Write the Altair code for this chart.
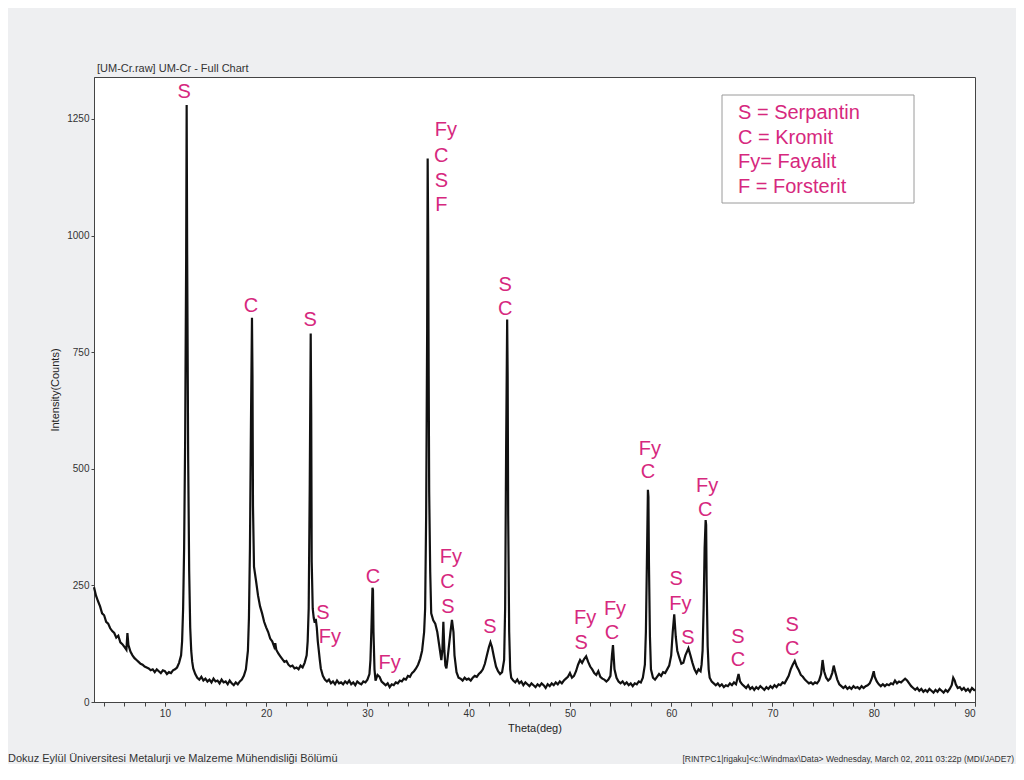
import altair as alt
import pandas as pd

# ---- diffraction pattern (theta in deg, intensity in counts) ----
seg_3_12 = [(3.0,246),(3.2,228),(3.4,216),(3.6,205),(3.8,190),(4.0,186),(4.2,172),(4.4,168),
            (4.6,158),(4.8,152),(5.0,148),(5.2,138),(5.4,142),(5.6,128),(5.8,124),(6.0,118),
            (6.2,112),(6.3,148),(6.4,122),(6.6,108),(6.8,100),(7.0,94),(7.2,90),(7.4,86),
            (7.6,82),(7.8,80),(8.0,76),(8.2,74),(8.4,72),(8.6,68),(8.8,70),(9.0,64),(9.2,70),
            (9.4,66),(9.6,62),(9.8,68),(10.0,66),(10.2,60),(10.4,64),(10.6,62),(10.8,68),
            (11.0,70),(11.2,74),(11.4,84),(11.6,100),(11.7,130),(11.8,200),(11.9,330),
            (12.0,560),(12.1,950),(12.15,1280),(12.2,960),(12.3,520),(12.4,280),(12.5,160),
            (12.6,110),(12.7,86),(12.8,72)]
seg_13_24 = [(13.0,60),(13.2,52),(13.4,48),(13.6,54),(13.8,46),(14.0,50),(14.2,44),(14.4,48),
             (14.6,42),(14.8,50),(15.0,44),(15.2,46),(15.4,40),(15.6,48),(15.8,42),(16.0,44),
             (16.2,38),(16.4,46),(16.6,40),(16.8,36),(17.0,42),(17.2,38),(17.4,44),(17.6,48),
             (17.8,56),(18.0,70),(18.2,110),(18.3,180),(18.4,330),(18.5,600),(18.6,824),
             (18.65,700),(18.7,420),(18.8,290),(18.9,275),(19.0,260),(19.2,228),(19.4,205),
             (19.6,190),(19.8,172),(20.0,160),(20.2,150),(20.4,136),(20.6,130),(20.8,118),
             (20.9,126),(21.0,112),(21.2,104),(21.4,98),(21.6,92),(21.8,86),(22.0,88),(22.2,80),
             (22.4,76),(22.6,78),(22.8,72),(23.0,74),(23.2,70),(23.4,78),(23.6,74),(23.8,84)]
seg_24_36 = [(24.0,100),(24.1,130),(24.2,200),(24.3,450),(24.4,790),(24.45,620),(24.5,300),
             (24.6,200),(24.7,180),(24.8,170),(24.9,178),(25.0,160),(25.1,130),(25.2,110),
             (25.3,90),(25.4,72),(25.6,56),(25.8,48),(26.0,44),(26.2,48),(26.4,40),(26.6,44),
             (26.8,38),(27.0,46),(27.2,40),(27.4,42),(27.6,38),(27.8,44),(28.0,40),(28.2,46),
             (28.4,38),(28.6,42),(28.8,36),(29.0,44),(29.2,40),(29.4,38),(29.6,44),(29.8,42),
             (30.0,48),(30.2,60),(30.3,90),(30.4,160),(30.5,245),(30.55,240),(30.6,150),
             (30.7,70),(30.8,46),(31.0,58),(31.2,54),(31.4,44),(31.6,40),(31.8,36),(32.0,40),
             (32.2,32),(32.4,38),(32.6,36),(32.8,42),(33.0,40),(33.2,46),(33.4,44),(33.6,50),
             (33.8,48),(34.0,56),(34.2,54),(34.4,62),(34.6,66),(34.8,72),(35.0,80),(35.2,92),
             (35.4,110),(35.6,150),(35.7,200),(35.8,400),(35.9,800),(35.95,1165),(36.0,1000),
             (36.05,700),(36.1,450),(36.2,280)]
seg_36_50 = [(36.3,190),(36.5,175),(36.7,168),(36.9,150),(37.1,120),(37.3,90),(37.4,110),
             (37.5,172),(37.6,110),(37.7,78),(37.8,72),(37.9,90),(38.0,110),(38.2,150),
             (38.35,176),(38.5,150),(38.6,100),(38.8,64),(39.0,52),(39.2,50),(39.4,46),
             (39.6,52),(39.8,48),(40.0,50),(40.2,46),(40.4,52),(40.6,56),(40.8,54),(41.0,60),
             (41.2,64),(41.4,70),(41.6,82),(41.8,100),(42.0,118),(42.15,128),(42.3,118),
             (42.5,96),(42.7,76),(42.9,66),(43.1,60),(43.3,64),(43.5,90),(43.6,200),(43.7,550),
             (43.8,820),(43.85,700),(43.9,400),(44.0,150),(44.1,70),(44.2,52),(44.4,46),
             (44.6,42),(44.8,48),(45.0,40),(45.2,44),(45.4,36),(45.6,42),(45.8,38),(46.0,34),
             (46.2,40),(46.4,36),(46.6,32),(46.8,38),(47.0,34),(47.2,40),(47.4,36),(47.6,30),
             (47.8,38),(48.0,34),(48.2,40),(48.4,36),(48.6,42),(48.8,38),(49.0,44),(49.2,40),
             (49.4,46),(49.6,50),(49.8,54)]
seg_50_64 = [(50.0,62),(50.2,52),(50.4,56),(50.6,66),(50.8,80),(51.0,90),(51.2,84),(51.4,92),
             (51.6,98),(51.8,86),(52.0,76),(52.2,70),(52.4,62),(52.6,58),(52.8,66),(53.0,54),
             (53.2,50),(53.4,48),(53.6,44),(53.8,48),(54.0,56),(54.15,100),(54.25,122),
             (54.4,70),(54.6,52),(54.8,44),(55.0,40),(55.2,44),(55.4,38),(55.6,42),(55.8,36),
             (56.0,40),(56.2,34),(56.4,40),(56.6,38),(56.8,44),(57.0,42),(57.2,52),(57.4,80),
             (57.5,150),(57.6,300),(57.7,455),(57.75,440),(57.8,300),(57.9,140),(58.0,70),
             (58.2,52),(58.4,48),(58.6,54),(58.8,60),(59.0,56),(59.2,64),(59.4,62),(59.6,70),
             (59.8,78),(60.0,100),(60.15,150),(60.3,188),(60.45,140),(60.6,110),(60.8,95),
             (61.0,82),(61.2,84),(61.4,100),(61.7,115),(61.9,100),(62.1,84),(62.3,70),(62.5,62),
             (62.7,70),(62.9,66),(63.0,80),(63.1,110),(63.2,200),(63.3,330),(63.4,390),
             (63.45,380),(63.5,250),(63.6,120),(63.7,70),(63.8,52)]
seg_64_90 = [(64.0,44),(64.2,40),(64.4,36),(64.6,40),(64.8,34),(65.0,38),(65.2,32),(65.4,36),
             (65.6,34),(65.8,40),(66.0,36),(66.2,42),(66.4,38),(66.65,60),(66.8,44),(67.0,38),
             (67.2,34),(67.4,30),(67.6,36),(67.8,28),(68.0,32),(68.2,26),(68.4,32),(68.6,28),
             (68.8,34),(69.0,30),(69.2,26),(69.4,32),(69.6,28),(69.8,34),(70.0,30),(70.2,36),
             (70.4,32),(70.6,38),(70.8,36),(71.0,42),(71.2,40),(71.4,48),(71.6,56),(71.8,70),
             (72.0,80),(72.2,88),(72.4,76),(72.6,68),(72.8,58),(73.0,54),(73.2,48),(73.4,44),
             (73.6,40),(73.8,42),(74.0,38),(74.2,42),(74.4,40),(74.6,46),(74.8,60),(74.95,90),
             (75.1,66),(75.3,52),(75.5,46),(75.7,50),(75.9,62),(76.05,78),(76.2,64),(76.4,48),
             (76.6,38),(76.8,34),(77.0,30),(77.2,34),(77.4,28),(77.6,32),(77.8,28),(78.0,34),
             (78.2,30),(78.4,32),(78.6,28),(78.8,34),(79.0,30),(79.2,34),(79.4,36),(79.6,40),
             (79.8,50),(80.0,66),(80.1,54),(80.3,44),(80.5,38),(80.7,34),(80.9,38),(81.1,34),
             (81.3,38),(81.5,36),(81.7,40),(81.9,38),(82.1,46),(82.3,40),(82.5,44),(82.7,42),
             (82.9,46),(83.1,50),(83.3,46),(83.5,40),(83.7,34),(83.9,30),(84.1,26),(84.3,30),
             (84.5,24),(84.7,28),(84.9,22),(85.1,26),(85.3,22),(85.5,28),(85.7,24),(85.9,20),
             (86.1,26),(86.3,22),(86.5,28),(86.7,24),(86.9,20),(87.1,26),(87.3,22),(87.5,28),
             (87.7,36),(87.85,52),(88.0,46),(88.1,38),(88.3,30),(88.5,32),(88.7,26),(88.9,30),
             (89.1,24),(89.3,28),(89.5,22),(89.7,30),(89.9,26),(90.0,24)]

# ---- phase labels placed over the peaks ----
label_text = ["S", "C", "S", "S", "Fy", "C", "Fy",
              "Fy", "C", "S", "F",
              "Fy", "C", "S", "S", "S", "C",
              "Fy", "S", "Fy", "C", "Fy", "C",
              "S", "Fy", "S", "Fy", "C", "S", "C", "S", "C"]
label_theta = [11.9, 18.5, 24.35, 25.6, 26.3, 30.55, 32.2,
               37.75, 37.3, 37.3, 37.3,
               38.25, 37.9, 37.95, 42.1, 43.6, 43.6,
               51.5, 51.1, 54.45, 54.15, 57.9, 57.7,
               60.5, 60.9, 61.65, 63.55, 63.35, 66.6, 66.6, 71.95, 71.95]
label_counts = [1307, 848, 820, 190, 140, 268, 84,
                1227, 1170, 1118, 1066,
                311, 258, 204, 161, 893, 843,
                180, 127, 199, 147, 543, 494,
                264, 211, 137, 464, 412, 139, 89, 166, 114]

legend_lines = ["S = Serpantin", "C = Kromit", "Fy= Fayalit", "F = Forsterit"]
x_major = [10, 20, 30, 40, 50, 60, 70, 80, 90]
x_minor = list(range(4, 91, 2))
y_ticks = [0, 250, 500, 750, 1000, 1250]

title_text = "[UM-Cr.raw] UM-Cr - Full Chart"
footer_left = "Dokuz Eylül Üniversitesi Metalurji ve Malzeme Mühendisliği Bölümü"
footer_right = "[RINTPC1|rigaku]<c:\\Windmax\\Data> Wednesday, March 02, 2011 03:22p (MDI/JADE7)"

pts = seg_3_12 + seg_13_24 + seg_24_36 + seg_36_50 + seg_50_64 + seg_64_90
df = pd.DataFrame(pts, columns=["theta", "counts"])
labels = pd.DataFrame({"t": label_text, "theta": label_theta, "counts": label_counts})
one = pd.DataFrame({"k": [0]})

MAGENTA = "#d6287e"
FONT = "Liberation Sans"

xscale = alt.Scale(domain=[3, 90], nice=False, zero=False)
yscale = alt.Scale(domain=[0, 1340], nice=False, zero=True)

xaxis = alt.Axis(orient="bottom", values=x_major, labelOverlap=False, title="Theta(deg)",
                 grid=False, tickSize=4, labelPadding=2, labelFontSize=10, labelColor="#333",
                 titleFontSize=11, titleFontWeight="normal", titleColor="#222", titlePadding=4,
                 domainColor="#444", tickColor="#444", labelFont=FONT, titleFont=FONT)
xaxis_minor = alt.Axis(orient="bottom", values=x_minor, labels=False, title=None, grid=False,
                       tickSize=4, domainColor="#444", tickColor="#444")
yaxis = alt.Axis(values=y_ticks, format="d", labelOverlap=False, title="Intensity(Counts)",
                 grid=False, tickSize=3,
                 labelPadding=2, labelFontSize=10, labelColor="#333", titleFontSize=11,
                 titleFontWeight="normal", titleColor="#222", titlePadding=6,
                 domainColor="#444", tickColor="#444", labelFont=FONT, titleFont=FONT)

line = alt.Chart(df).mark_line(color="#111", strokeWidth=2.2).encode(
    x=alt.X("theta:Q", scale=xscale, axis=xaxis),
    y=alt.Y("counts:Q", scale=yscale, axis=yaxis),
    order="theta:Q",
)

peak_labels = alt.Chart(labels).mark_text(
    color=MAGENTA, fontSize=20, font=FONT, baseline="middle", align="center"
).encode(x=alt.X("theta:Q", scale=xscale, axis=xaxis_minor),
         y=alt.Y("counts:Q", scale=yscale, axis=yaxis), text="t:N")

legend_box = alt.Chart(one).mark_rect(fill="white", stroke="#9a9a9a", strokeWidth=1).encode(
    x=alt.value(628), x2=alt.value(820), y=alt.value(18), y2=alt.value(126))
legend_text = alt.Chart(one).mark_text(
    color=MAGENTA, fontSize=20, font=FONT, align="left", baseline="middle", lineHeight=24.5
).encode(x=alt.value(644), y=alt.value(36), text=alt.value(legend_lines))

title = alt.Chart(one).mark_text(color="#333", fontSize=11, font=FONT, align="left",
                                 baseline="middle").encode(
    x=alt.value(3), y=alt.value(-8), text=alt.value(title_text))
foot_l = alt.Chart(one).mark_text(color="#333", fontSize=11, font=FONT, align="left",
                                  baseline="middle").encode(
    x=alt.value(-86), y=alt.value(682), text=alt.value(footer_left))
foot_r = alt.Chart(one).mark_text(color="#333", fontSize=8.5, font=FONT, align="right",
                                  baseline="middle").encode(
    x=alt.value(920), y=alt.value(682), text=alt.value(footer_right))

chart = alt.layer(line, peak_labels, legend_box, legend_text, title, foot_l, foot_r).resolve_axis(
    x="independent"
).properties(
    width=881, height=625,
    padding={"left": 86, "top": 69, "right": 41, "bottom": 62},
    autosize=alt.AutoSizeParams(type="none"),
    background="#eeeff1",
).configure_view(stroke="#444", strokeWidth=1, fill="white")

chart.save("out.html", embed_options={"renderer": "svg", "actions": False})
